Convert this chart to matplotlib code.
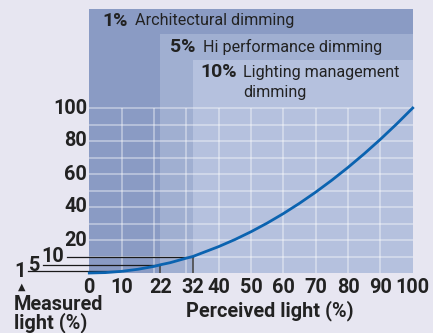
import matplotlib.pyplot as plt
from matplotlib.patches import Rectangle

plt.rcParams['font.family'] = ['Roboto', 'DejaVu Sans']

# perceived light (%) vs measured light (%)
perceived = [0, 5, 10, 15, 20, 22, 25, 30, 32, 35, 40, 45, 50, 55, 60, 65, 70, 75, 80, 85, 90, 95, 100]
measured = [0, 0.25, 1, 2.25, 4, 5, 6.25, 9, 10, 12.25, 16, 20.25, 25, 30.25, 36, 42.25, 49, 56.25, 64, 72.25, 81, 90.25, 100]

# dimming bands: where they start on the x axis, how high the shaded box goes
band_pct = ['1%', '5%', '10%']
band_names = ['Architectural dimming', 'Hi performance dimming', 'Lighting management\ndimming']
band_start = [0, 22, 32]
band_top = [160, 145, 129]
band_colors = ['#8a9bc4', '#a0afd1', '#b5c1de']

# reference levels of measured light and the perceived value they map to
ref_levels = [1, 5, 10]
ref_perceived = [10, 22, 32]

xticks = [0, 10, 22, 32, 40, 50, 60, 70, 80, 90, 100]
yticks = [20, 40, 60, 80, 100]

W, H = 433, 333
TXT = '#222222'
FS = 14.3      # tick numbers
FS_AX = 14.3   # axis titles

fig = plt.figure(figsize=(W / 100, H / 100), dpi=100)
fig.patch.set_facecolor('#e7e6f1')

ax = fig.add_axes([89.3 / W, (H - 273) / H, 323.4 / W, 264 / H])
ax.set_xlim(0, 100)
ax.set_ylim(0, 160)
ax.axis('off')

for start, top, col in zip(band_start, band_top, band_colors):
    ax.add_patch(Rectangle((start, 0), 100 - start, top, facecolor=col, edgecolor='none', zorder=1))

# grid only inside the 0-100 square
ax.vlines(range(10, 100, 10), 0, 100, colors='white', alpha=0.4, lw=1.3, zorder=2)
ax.hlines(range(10, 101, 10), 0, 100, colors='white', alpha=0.4, lw=1.3, zorder=2)

# reference lines
line_start = [-19, -14.3, -7]
for lvl, px, xs in zip(ref_levels, ref_perceived, line_start):
    ax.plot([xs, px], [lvl, lvl], color='#1a1a1a', lw=0.9, clip_on=False, zorder=3)
    if lvl > 1:
        ax.plot([px, px], [0, lvl], color='#4a4a4a', lw=1.2, zorder=3)
    ax.text(xs - 0.8, lvl - 0.3, str(lvl), ha='right', va='center', fontsize=FS,
            fontweight='bold', color=TXT, clip_on=False)

ax.plot(perceived, measured, color='#0b63b0', lw=2.0, zorder=4, clip_on=False)

for t in yticks:
    ax.text(-0.7, t, str(t), ha='right', va='center', fontsize=FS, fontweight='bold', color=TXT)
for t in xticks:
    ax.text(t, -8.6, str(t), ha='center', va='center', fontsize=FS, fontweight='bold', color=TXT)


def fx(px):
    return px / W


def fy(py):
    return 1 - py / H


# band labels
pct_x = [102, 170, 200]
name_x = [135, 203, 243]
label_y = [21, 47, 72]
for pct, name, px, nx, py in zip(band_pct, band_names, pct_x, name_x, label_y):
    fig.text(fx(px), fy(py), pct, ha='left', va='center', fontsize=14, fontweight='bold', color=TXT)
    for i, part in enumerate(name.split('\n')):
        fig.text(fx(nx), fy(py + 21 * i), part, ha='left', va='center', fontsize=11.6, color=TXT)

fig.text(fx(22), fy(287), '\u25b2', ha='center', va='center', fontsize=7, color=TXT)
fig.text(fx(14), fy(314), 'Measured\nlight (%)', ha='left', va='center', fontsize=FS_AX,
         fontweight='bold', color=TXT, linespacing=0.92)
fig.text(fx(270), fy(311), 'Perceived light (%)', ha='center', va='center', fontsize=FS_AX,
         fontweight='bold', color=TXT)

fig.savefig('out.png', dpi=100, facecolor=fig.get_facecolor())
